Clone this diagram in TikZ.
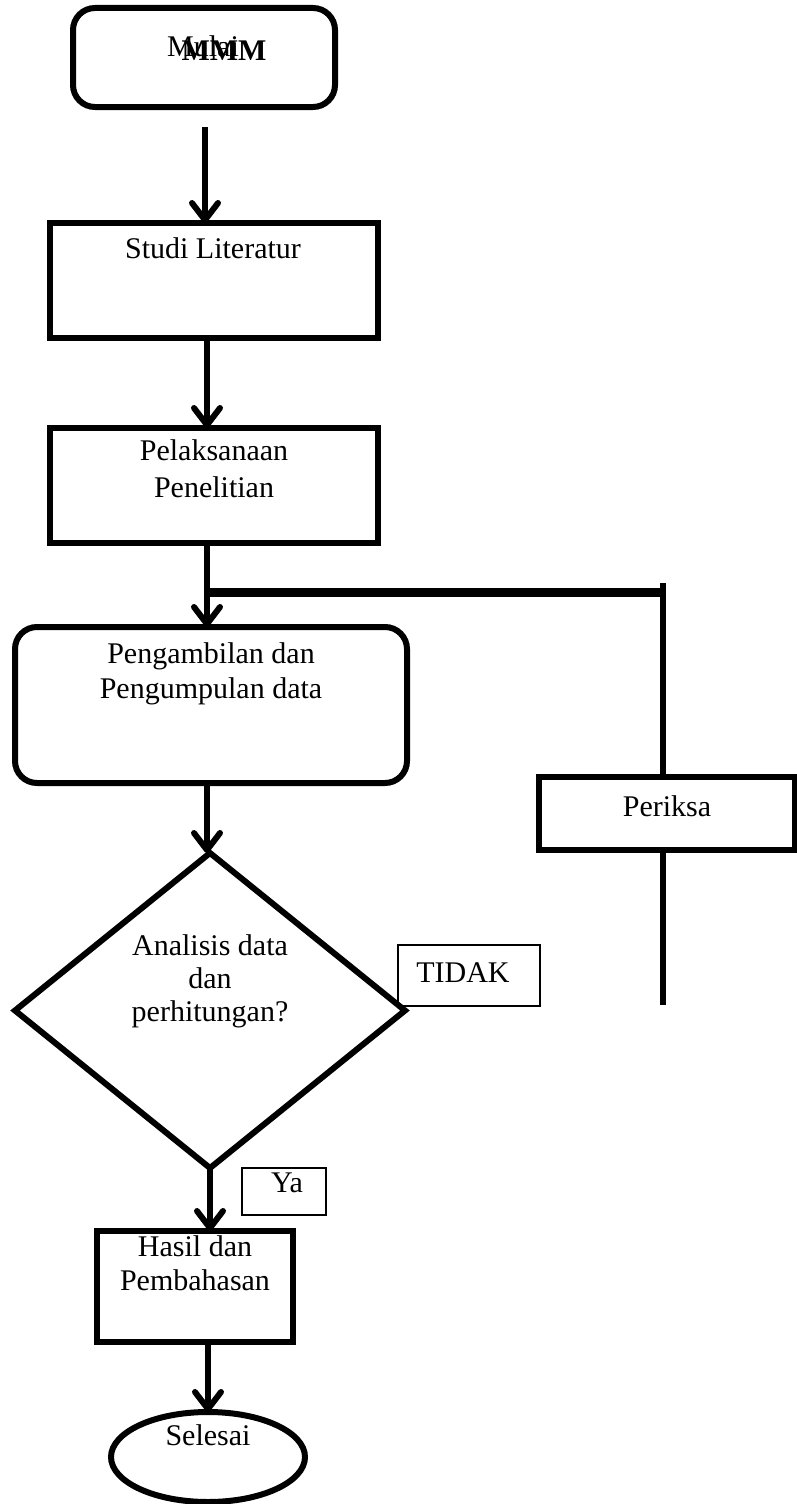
\documentclass[tikz,border=0pt]{standalone}
\usepackage{fontspec}
\setmainfont{Liberation Serif}
\usetikzlibrary{arrows.meta,shapes.geometric}
\begin{document}
\begin{tikzpicture}[x=1pt,y=-1pt,
  thickbox/.style={draw,line width=6pt,inner sep=0pt,outer sep=0pt},
  procbox/.style={thickbox,rectangle},
  roundbox/.style={thickbox,rectangle,rounded corners=22pt},
  tagbox/.style={draw,line width=1.5pt,rectangle,inner sep=0pt,outer sep=0pt},
  lbl/.style={anchor=base,inner sep=0pt,font=\fontsize{30}{36}\selectfont},
  flow/.style={line width=6pt,-{Straight Barb[length=17pt,width=26pt,line width=6pt,round]}},
  plain/.style={line width=6pt}]
\useasboundingbox (0,0) rectangle (797,1504);

% shapes
\node[roundbox,minimum width=262pt,minimum height=99pt] (mulai) at (204,57.5) {};
\node[procbox,minimum width=328pt,minimum height=115pt] (studi) at (214,280.5) {};
\node[procbox,minimum width=328pt,minimum height=115pt] (pel) at (214,485.5) {};
\node[roundbox,minimum width=392pt,minimum height=156pt] (ambil) at (211,705) {};
\node[thickbox,diamond,minimum width=390pt,minimum height=315pt] (cek) at (210,1010.5) {};
\node[procbox,minimum width=256pt,minimum height=73pt] (periksa) at (667,813.5) {};
\node[tagbox,minimum width=142pt,minimum height=61pt] (tidak) at (469,975.5) {};
\node[tagbox,minimum width=84pt,minimum height=47pt] (ya) at (284,1191.5) {};
\node[procbox,minimum width=196pt,minimum height=111pt] (hasil) at (195,1286.5) {};
\node[thickbox,ellipse,minimum width=194pt,minimum height=90pt] (selesai) at (208,1457) {};

% labels
\node[lbl] (t0a) at (203,57) {Mulai};
\node[lbl] (t0b) at (224,60) {\bfseries MMM};
\node[lbl] (t1) at (213,258) {Studi Literatur};
\node[lbl] (t2a) at (214,460) {Pelaksanaan};
\node[lbl] (t2b) at (214,497) {Penelitian};
\node[lbl] (t3a) at (211,663) {Pengambilan dan};
\node[lbl] (t3b) at (211,698) {Pengumpulan data};
\node[lbl] (t4a) at (210,955) {Analisis data};
\node[lbl] (t4b) at (210,988) {dan};
\node[lbl] (t4c) at (210,1021) {perhitungan?};
\node[lbl] (t5) at (463,982) {TIDAK};
\node[lbl] (t6) at (667,816) {Periksa};
\node[lbl] (t7) at (287,1192) {Ya};
\node[lbl] (t8a) at (195,1256) {Hasil dan};
\node[lbl] (t8b) at (195,1290) {Pembahasan};
\node[lbl] (t9) at (208,1445) {Selesai};

% free ends of connectors
\coordinate (s0) at (205,127);
\coordinate (j) at (207,592);
\coordinate (barend) at (660,592);
\coordinate (vtop) at (663,583);
\coordinate (vbot) at (663,1005);

% connectors
\draw[flow] (s0) -- (studi.north -| s0);
\draw[flow] (studi.south -| j) -- (pel.north -| j);
\draw[flow] (pel.south -| j) -- (ambil.north -| j);
\draw[flow] (ambil.south -| j) -- (cek.north -| j);
\draw[flow] (cek.south) -- (hasil.north -| cek.south);
\draw[flow] (hasil.south -| selesai.north) -- (selesai.north);
\draw[line width=9pt] (j) -- (barend);
\draw[plain] (vtop) -- (periksa.north -| vtop);
\draw[plain] (periksa.south -| vtop) -- (vbot);
\end{tikzpicture}
\end{document}
